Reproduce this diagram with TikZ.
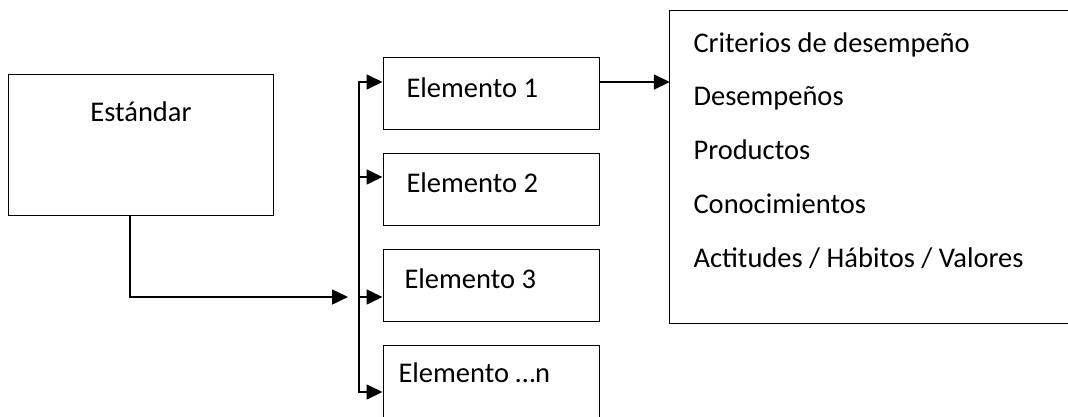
\documentclass[tikz,border=0pt]{standalone}
\usepackage{fontspec}
\setmainfont{Carlito}
\usetikzlibrary{arrows.meta}

\tikzset{
  box/.style={draw, line width=1pt, inner sep=0pt},
  elbox/.style={box, minimum width=216, minimum height=72},
  conn/.style={line width=1.6pt},
  arr/.style={conn, -{Triangle[length=16pt,width=15pt]}},
}

\begin{document}
\begin{tikzpicture}[x=1pt, y=-1pt, font=\fontsize{28.5}{34}\selectfont]
  \useasboundingbox (0,0) rectangle (1068,416);
  \clip (0,0) rectangle (1068,416);

  % standard
  \node [box, minimum width=265, minimum height=141] (est) at (140.5,144.5) {};
  \node [anchor=base] (esttxt) at (141,121) {Estándar};

  % elements
  \node [elbox] (e1) at (491,93) {};
  \node [elbox] (e2) at (491,189) {};
  \node [elbox] (e3) at (491,285.5) {};
  \node [elbox, minimum height=80] (e4) at (491,385) {};
  \node [anchor=base west] (e1txt) at (403,97) {Elemento 1};
  \node [anchor=base west] (e2txt) at (403,192) {Elemento 2};
  \node [anchor=base west] (e3txt) at (401,288) {Elemento 3};
  \node [anchor=base west] (e4txt) at (395,382) {Elemento …n};

  % criteria (box runs off the right edge)
  \node [inner sep=0pt, minimum width=430, minimum height=312] (crit) at (885,167) {};
  \draw [line width=1.3pt] (crit.north east) -- (crit.north west)
    -- (crit.south west) -- (crit.south east);
  \node [anchor=base west] (c1) at (690,52) {Criterios de desempeño};
  \node [anchor=base west] (c2) at (690,105) {Desempeños};
  \node [anchor=base west] (c3) at (690,159) {Productos};
  \node [anchor=base west] (c4) at (690,213) {Conocimientos};
  \node [anchor=base west] (c5) at (690,267) {Actitudes / Hábitos / Valores};

  % connectors
  \coordinate (s) at (130,0);
  \coordinate (in) at (348,297);
  \draw [arr] (est.south -| s) |- (in);

  \coordinate (j1) at (359,82);
  \coordinate (j2) at (359,177);
  \coordinate (j3) at (359,297);
  \coordinate (j4) at (359,392);
  \draw [conn, line cap=rect] (j1) -- (j4);
  \foreach \i in {1,2,3,4}
    \draw [arr] (j\i) -- (j\i -| e\i.west);

  \coordinate (o1) at (599,82);
  \draw [arr] (o1) -- (o1 -| crit.west);
\end{tikzpicture}
\end{document}
